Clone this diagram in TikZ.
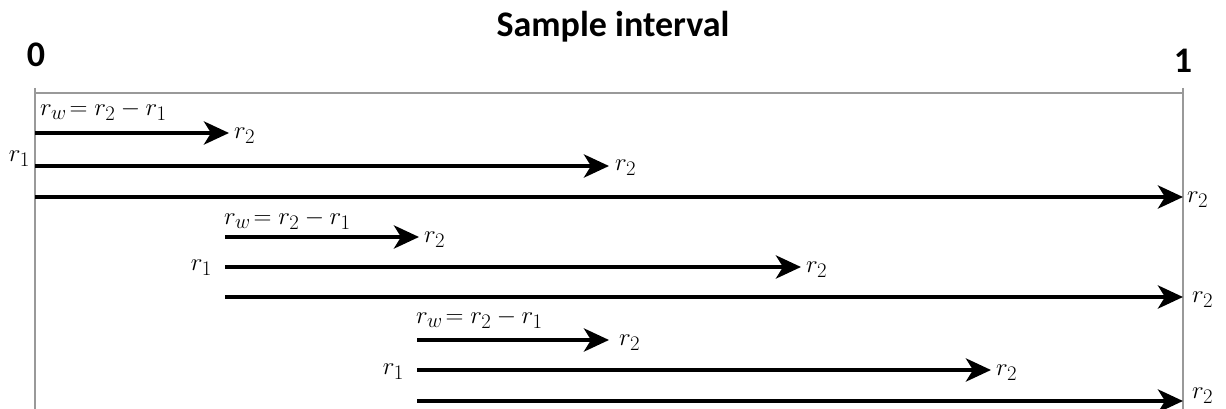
\documentclass[tikz,border=0pt]{standalone}
\usepackage{fontspec}
\newfontfamily\titlefont{Carlito}
\usetikzlibrary{arrows.meta}
\begin{document}
\begin{tikzpicture}[x=1pt,y=-1pt,
  frame/.style={draw=black!40,line width=1.3pt},
  arr/.style={line width=4.5pt,-{Stealth[length=25pt,width=23pt,inset=7pt]}},
  lab/.style={inner sep=0pt,font=\fontsize{30}{34}\selectfont},
  ttl/.style={inner sep=0pt,font=\titlefont\bfseries\fontsize{36}{40}\selectfont}]
\useasboundingbox (0,0) rectangle (1226,409);
% frame
\coordinate (tl) at (35,93);
\coordinate (tr) at (1183,93);
\coordinate (bl) at (35,409);
\coordinate (br) at (1183,409);
\coordinate (tlu) at (35,88);
\coordinate (tru) at (1183,88);
\draw[frame] (tlu) -- (bl);
\draw[frame] (tru) -- (br);
\draw[frame] (tl) -- (tr);
\node[ttl] (title) at (613,27) {Sample interval};
\node[ttl] (zero) at (36,55) {0};
\node[ttl] (one) at (1183,61) {1};
% group 1
\coordinate (a1s) at (35,133); \coordinate (a1e) at (229,133);
\coordinate (a2s) at (35,166); \coordinate (a2e) at (609,166);
\coordinate (a3s) at (35,197); \coordinate (a3e) at (1183,197);
\node[lab,anchor=west] (w1) at (40,111) {$r_w\!=r_2-r_1$};
\node[lab,anchor=west] (b1) at (234,136) {$r_2$};
\node[lab,anchor=west] (b2) at (615,168) {$r_2$};
\node[lab,anchor=west] (b3) at (1187,200) {$r_2$};
\node[lab,anchor=east] (c1) at (30,159) {$r_1$};
\draw[arr] (a1s) -- (a1e);
\draw[arr] (a2s) -- (a2e);
\draw[arr] (a3s) -- (a3e);
% group 2
\coordinate (d1s) at (225,237); \coordinate (d1e) at (419,237);
\coordinate (d2s) at (225,267); \coordinate (d2e) at (801,267);
\coordinate (d3s) at (225,297); \coordinate (d3e) at (1183,297);
\node[lab,anchor=west] (w2) at (224,220) {$r_w\!=r_2-r_1$};
\node[lab,anchor=west] (e1) at (424,240) {$r_2$};
\node[lab,anchor=west] (e2) at (806,270) {$r_2$};
\node[lab,anchor=west] (e3) at (1192,300) {$r_2$};
\node[lab,anchor=east] (f1) at (212,268) {$r_1$};
\draw[arr] (d1s) -- (d1e);
\draw[arr] (d2s) -- (d2e);
\draw[arr] (d3s) -- (d3e);
% group 3
\coordinate (g1s) at (417,340); \coordinate (g1e) at (609,340);
\coordinate (g2s) at (417,370); \coordinate (g2e) at (991,370);
\coordinate (g3s) at (417,401); \coordinate (g3e) at (1183,401);
\node[lab,anchor=west] (w3) at (416,319) {$r_w\!=r_2-r_1$};
\node[lab,anchor=west] (h1) at (619,343) {$r_2$};
\node[lab,anchor=west] (h2) at (996,373) {$r_2$};
\node[lab,anchor=west] (h3) at (1192,396) {$r_2$};
\node[lab,anchor=east] (k1) at (404,372) {$r_1$};
\draw[arr] (g1s) -- (g1e);
\draw[arr] (g2s) -- (g2e);
\draw[arr] (g3s) -- (g3e);
\end{tikzpicture}
\end{document}
